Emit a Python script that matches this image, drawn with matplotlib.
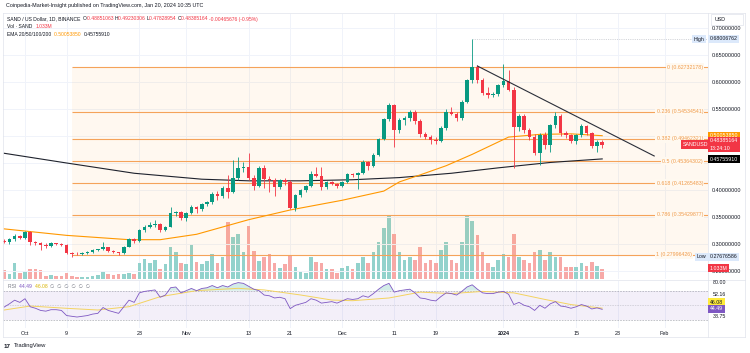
import matplotlib
matplotlib.use('Agg')
import matplotlib.pyplot as plt
import matplotlib.dates as mdates
import matplotlib.transforms as mtransforms
from matplotlib.lines import Line2D
from matplotlib.patches import Rectangle
import numpy as np
import pandas as pd

plt.rcParams['font.family'] = ['Liberation Sans', 'DejaVu Sans']

W, H = 750, 353

# ---- data (SAND/USD daily, Binance) ----
dates = pd.date_range('2023-09-27', '2024-01-20', freq='D')

opens = [0.306, 0.303, 0.309, 0.315, 0.311, 0.322, 0.304, 0.301, 0.299, 0.296, 0.301, 0.300,
         0.298, 0.284, 0.282, 0.281, 0.283, 0.285, 0.289, 0.290, 0.294, 0.287, 0.285, 0.283,
         0.295, 0.309, 0.305, 0.326, 0.332, 0.335, 0.337, 0.326, 0.332, 0.357, 0.360, 0.348,
         0.357, 0.369, 0.364, 0.374, 0.377, 0.393, 0.388, 0.403, 0.396, 0.422, 0.440, 0.442,
         0.422, 0.408, 0.441, 0.420, 0.418, 0.405, 0.418, 0.414, 0.366, 0.391, 0.400, 0.407,
         0.430, 0.425, 0.405, 0.414, 0.411, 0.407, 0.415, 0.430, 0.427, 0.432, 0.451, 0.445,
         0.465, 0.494, 0.531, 0.557, 0.512, 0.530, 0.534, 0.545, 0.527, 0.503, 0.499, 0.493,
         0.490, 0.514, 0.545, 0.541, 0.533, 0.563, 0.603, 0.627, 0.603, 0.579, 0.576, 0.577,
         0.594, 0.602, 0.585, 0.517, 0.537, 0.512, 0.499, 0.468, 0.502, 0.483, 0.520, 0.537,
         0.505, 0.501, 0.490, 0.501, 0.518, 0.505, 0.482, 0.48851063]
highs = [0.309, 0.311, 0.318, 0.317, 0.324, 0.325, 0.306, 0.303, 0.301, 0.303, 0.302, 0.301,
         0.300, 0.286, 0.285, 0.285, 0.287, 0.290, 0.291, 0.304, 0.295, 0.289, 0.286, 0.297,
         0.311, 0.311, 0.328, 0.336, 0.341, 0.344, 0.339, 0.334, 0.369, 0.362, 0.362, 0.359,
         0.372, 0.371, 0.376, 0.380, 0.396, 0.398, 0.407, 0.428, 0.455, 0.462, 0.452, 0.469,
         0.428, 0.445, 0.446, 0.425, 0.422, 0.421, 0.422, 0.418, 0.393, 0.402, 0.409, 0.435,
         0.443, 0.443, 0.416, 0.416, 0.413, 0.417, 0.432, 0.432, 0.434, 0.456, 0.454, 0.468,
         0.497, 0.533, 0.562, 0.560, 0.533, 0.537, 0.548, 0.548, 0.532, 0.507, 0.502, 0.499,
         0.518, 0.550, 0.553, 0.545, 0.566, 0.606, 0.680, 0.632, 0.608, 0.590, 0.582, 0.597,
         0.634, 0.622, 0.590, 0.540, 0.540, 0.515, 0.503, 0.505, 0.507, 0.522, 0.545, 0.541,
         0.510, 0.504, 0.503, 0.522, 0.520, 0.508, 0.492, 0.49230306]
lows = [0.301, 0.300, 0.305, 0.309, 0.310, 0.298, 0.299, 0.289, 0.293, 0.294, 0.298, 0.296,
        0.281, 0.2768, 0.279, 0.279, 0.281, 0.284, 0.287, 0.288, 0.285, 0.283, 0.280, 0.282,
        0.294, 0.302, 0.304, 0.322, 0.329, 0.331, 0.323, 0.324, 0.331, 0.352, 0.345, 0.343,
        0.355, 0.358, 0.362, 0.370, 0.375, 0.382, 0.386, 0.385, 0.394, 0.418, 0.433, 0.418,
        0.400, 0.405, 0.404, 0.397, 0.388, 0.402, 0.410, 0.364, 0.362, 0.387, 0.396, 0.405,
        0.424, 0.400, 0.401, 0.409, 0.404, 0.405, 0.413, 0.424, 0.401, 0.430, 0.437, 0.443,
        0.463, 0.492, 0.528, 0.480, 0.505, 0.520, 0.528, 0.522, 0.498, 0.495, 0.486, 0.486,
        0.488, 0.512, 0.538, 0.528, 0.530, 0.561, 0.598, 0.598, 0.575, 0.570, 0.572, 0.574,
        0.590, 0.583, 0.440, 0.510, 0.505, 0.493, 0.465, 0.447, 0.475, 0.470, 0.515, 0.500,
        0.497, 0.487, 0.486, 0.498, 0.502, 0.478, 0.470, 0.47828954]
closes = [0.303, 0.309, 0.315, 0.311, 0.322, 0.304, 0.301, 0.299, 0.296, 0.301, 0.300, 0.298,
          0.284, 0.282, 0.281, 0.283, 0.285, 0.289, 0.290, 0.294, 0.287, 0.285, 0.283, 0.295,
          0.309, 0.305, 0.326, 0.332, 0.335, 0.337, 0.326, 0.332, 0.357, 0.360, 0.348, 0.357,
          0.369, 0.364, 0.374, 0.377, 0.393, 0.388, 0.403, 0.396, 0.422, 0.440, 0.442, 0.422,
          0.408, 0.441, 0.420, 0.418, 0.405, 0.418, 0.414, 0.366, 0.391, 0.400, 0.407, 0.430,
          0.425, 0.405, 0.414, 0.411, 0.407, 0.415, 0.430, 0.427, 0.432, 0.451, 0.445, 0.465,
          0.494, 0.531, 0.557, 0.512, 0.530, 0.534, 0.545, 0.527, 0.503, 0.499, 0.493, 0.490,
          0.514, 0.545, 0.541, 0.533, 0.563, 0.603, 0.627, 0.603, 0.579, 0.576, 0.577, 0.594,
          0.602, 0.585, 0.517, 0.537, 0.512, 0.499, 0.468, 0.502, 0.483, 0.520, 0.537, 0.505,
          0.501, 0.490, 0.501, 0.518, 0.505, 0.482, 0.48851063, 0.48385164]

# volume in millions of SAND
volumes = [0.9, 0.5, 1.6, 0.6, 0.8, 1.0, 1.0, 0.9, 0.3, 0.4, 0.3, 0.3,
           0.6, 0.3, 0.2, 0.2, 0.2, 0.3, 0.4, 0.7, 0.5, 0.4, 0.5, 0.5,
           0.6, 0.5, 1.6, 2.1, 1.6, 2.0, 1.0, 1.5, 3.3, 2.8, 1.6, 1.5,
           3.5, 1.8, 1.5, 1.9, 2.6, 1.6, 2.3, 5.9, 4.3, 4.6, 2.8, 5.5,
           2.9, 1.9, 2.3, 2.6, 1.6, 1.1, 1.5, 2.4, 1.2, 0.7, 0.6, 2.3,
           1.7, 1.6, 1.0, 1.0, 0.6, 1.1, 1.3, 1.0, 1.6, 2.3, 1.6, 2.8,
           3.8, 5.3, 6.5, 4.6, 2.8, 2.0, 2.3, 2.0, 3.3, 1.6, 2.0, 1.6,
           3.0, 3.8, 2.0, 1.6, 3.8, 6.5, 6.0, 4.5, 2.8, 1.6, 1.2, 2.0,
           2.6, 2.3, 4.6, 2.3, 2.0, 1.6, 2.8, 3.0, 2.0, 2.8, 2.3, 2.3,
           1.2, 1.2, 1.2, 1.6, 1.3, 1.8, 1.3, 1.033]

rsi_vals = [47.6, 52, 57, 54, 59, 48, 46, 43, 42, 44, 44, 43,
            36, 35, 34, 35, 36, 38, 39, 47, 43, 41, 39, 48,
            57, 54, 67, 69, 70, 71, 61, 64, 74, 75, 67, 70,
            73, 70, 73, 74, 77, 74, 77, 75, 79, 81, 80, 76,
            72, 70, 64, 63, 60, 61, 59, 45.5, 50, 52, 54, 59,
            57, 53, 54, 55, 53, 56, 59, 58, 59, 63, 61, 66,
            72, 77, 80, 68, 70, 71, 72, 67, 60, 59, 57, 56,
            62, 67, 66, 64, 69, 75, 78, 72, 67, 66, 66, 68,
            69, 65, 51, 54, 50, 48, 43, 50, 46, 52, 55, 49,
            48, 46, 48, 51, 49, 45, 46.5, 44.49]

rsi_ma_dates = ['2023-09-27', '2023-10-02', '2023-10-09', '2023-10-15', '2023-10-21', '2023-10-27',
                '2023-11-03', '2023-11-11', '2023-11-16', '2023-11-23', '2023-11-29', '2023-12-03',
                '2023-12-10', '2023-12-16', '2023-12-22', '2023-12-28', '2024-01-03', '2024-01-09',
                '2024-01-14', '2024-01-20']
rsi_ma_vals = [43.6, 49, 45.9, 43.6, 48.1, 61.8, 70, 73.2, 71, 64.1, 57.2, 56.3,
               60, 68, 66, 69, 67, 58, 51, 46.08]

ema50_dates = ['2023-09-27', '2023-10-09', '2023-10-21', '2023-10-27', '2023-11-03', '2023-11-13',
               '2023-11-21', '2023-12-01', '2023-12-09', '2023-12-12', '2023-12-16', '2023-12-21',
               '2023-12-26', '2024-01-02', '2024-01-08', '2024-01-14', '2024-01-20']
ema50_vals = [0.328, 0.316, 0.308, 0.308, 0.318, 0.345, 0.363, 0.381, 0.398, 0.415, 0.428,
              0.445, 0.466, 0.498, 0.503, 0.504, 0.50053850]

ema200_dates = ['2023-09-27', '2023-10-09', '2023-10-22', '2023-11-04', '2023-11-13', '2023-11-23',
                '2023-12-03', '2023-12-12', '2023-12-22', '2023-12-31', '2024-01-10', '2024-01-20']
ema200_vals = [0.468, 0.450, 0.431, 0.420, 0.417, 0.417, 0.419, 0.423, 0.431, 0.441, 0.451,
               0.45755910]

fib_ratios = ['0', '0.236', '0.382', '0.5', '0.618', '0.786', '1']
fib_prices = [0.62732178, 0.54534541, 0.49462321, 0.45364302, 0.41265483, 0.35429877, 0.27996426]
fib_start = '2023-10-10'

trend_dates = ['2023-12-27', '2024-01-30']
trend_prices = [0.6296, 0.4630]

price_high, price_high_date = 0.68006762, '2023-12-26'
price_low = 0.27676586

grid_prices = [0.25, 0.30, 0.35, 0.40, 0.45, 0.50, 0.55, 0.60, 0.65, 0.70]
price_labels = [0.25, 0.30, 0.35, 0.40, 0.55, 0.60, 0.65, 0.70]
time_ticks = ['2023-10-01', '2023-10-09', '2023-10-23', '2023-11-01', '2023-11-13', '2023-11-21',
              '2023-12-01', '2023-12-11', '2023-12-19', '2024-01-01', '2024-01-15', '2024-01-23',
              '2024-02-01']
time_labels = ['Oct', '9', '23', 'Nov', '13', '21', 'Dec', '11', '19', '2024', '15', '23', 'Feb']

# ---- colours ----
UP, DN = '#089981', '#F23645'
UP_V, DN_V = '#92D2CC', '#F7A9A7'
FIB = '#F5A35A'
GRID = '#F0F3FA'
TXT = '#131722'
GREY = '#787B86'
BORDER = '#E0E3EB'
EMA50_C = '#FF9800'
RSI_C = '#7E57C2'
RSI_MA_C = '#F3D35F'


def fx(px):
    return px / W


def fy(py):
    return 1 - py / H


def dn(d):
    return mdates.date2num(pd.Timestamp(d))


fig = plt.figure(figsize=(W / 100, H / 100), dpi=100)
fig.patch.set_facecolor('white')

x_oct1 = dn('2023-10-01')
xlim = (x_oct1 - 22 / 5.2, x_oct1 + 683 / 5.2)

# volume axes underneath, price axes on top
ax_vol = fig.add_axes([fx(3), fy(279), fx(708) - fx(3), fy(14) - fy(279)])
ax = fig.add_axes([fx(3), fy(279), fx(708) - fx(3), fy(14) - fy(279)], sharex=ax_vol)
ax.patch.set_visible(False)
ax_rsi = fig.add_axes([fx(3), fy(328), fx(708) - fx(3), fy(281) - fy(328)], sharex=ax_vol)

for a in (ax, ax_vol, ax_rsi):
    for s in a.spines.values():
        s.set_visible(False)
ax_vol.set_xlim(*xlim)

xd = mdates.date2num(dates)
o = np.array(opens)
h = np.array(highs)
l = np.array(lows)
c = np.array(closes)
up = c >= o

# grid
for t in time_ticks:
    ax_vol.axvline(dn(t), color=GRID, lw=0.7, zorder=0)
    ax_rsi.axvline(dn(t), color=GRID, lw=0.7, zorder=0)

# volume
ax_vol.bar(xd, volumes, width=0.66, color=np.where(up, UP_V, DN_V), lw=0, zorder=2)
ax_vol.set_ylim(0, 27.3)
ax_vol.set_yticks([])
ax_vol.tick_params(axis='x', length=0, labelbottom=False)

# price pane
ax.set_ylim(0.2352, 0.7259)
for p in grid_prices:
    ax.axhline(p, color=GRID, lw=0.7, zorder=0)

x_fib0 = dn(fib_start)
ax.fill_between([x_fib0, xlim[1]], fib_prices[-1], fib_prices[0], color='#FF9800', alpha=0.06, lw=0,
                zorder=1)
blend = mtransforms.blended_transform_factory(ax.transAxes, ax.transData)
for r, p in zip(fib_ratios, fib_prices):
    ax.hlines(p, x_fib0, xlim[1], color=FIB, lw=0.8, zorder=2)
    right = 0.993 if r != '1' else (692 - 3) / 705
    ax.text(right, p, f'{r} ({p:.8f})', transform=blend, ha='right', va='center', fontsize=3.8,
            color='#F09A4A', zorder=3,
            bbox=dict(boxstyle='square,pad=0.25', fc='#FFF9F0', ec='none'))

ax.hlines(price_high, dn(price_high_date), xlim[1], color='#B2B5BE', lw=0.4, ls=(0, (2, 2)), zorder=2)

ax.plot(mdates.date2num(pd.to_datetime(ema200_dates)), ema200_vals, color='#1E222D', lw=0.8, zorder=3)
ax.plot(mdates.date2num(pd.to_datetime(ema50_dates)), ema50_vals, color=EMA50_C, lw=0.8, zorder=3)

col = np.where(up, UP, DN)
ax.vlines(xd, l, h, colors=col, lw=0.6, zorder=4)
ax.bar(xd, np.maximum(np.abs(c - o), 0.0012), bottom=np.minimum(o, c), width=0.66, color=col, lw=0,
       zorder=5)

ax.plot(mdates.date2num(pd.to_datetime(trend_dates)), trend_prices, color='#2A2E39', lw=0.8, zorder=6)

ax.yaxis.tick_right()
ax.set_yticks(price_labels)
ax.set_yticklabels([f'{p:.8f}' for p in price_labels])
ax.tick_params(axis='y', length=0, pad=3, labelsize=3.9, labelcolor=TXT)
ax.tick_params(axis='x', length=0, labelbottom=False)

# RSI pane
ax_rsi.set_ylim(19.0, 83.2)
ax_rsi.fill_between(xlim, 30, 70, color=RSI_C, alpha=0.09, lw=0, zorder=1)
for lvl, ls in ((70, (0, (3, 2))), (50, (0, (1, 2))), (30, (0, (3, 2)))):
    ax_rsi.axhline(lvl, color='#9598A1', lw=0.4, ls=ls, zorder=2)
rv = np.array(rsi_vals)
ax_rsi.fill_between(xd, 70, rv, where=rv > 70, interpolate=True, color=UP, alpha=0.18, lw=0, zorder=2)
ax_rsi.plot(mdates.date2num(pd.to_datetime(rsi_ma_dates)), rsi_ma_vals, color=RSI_MA_C, lw=0.7, zorder=3)
ax_rsi.plot(xd, rv, color=RSI_C, lw=0.6, zorder=4)
ax_rsi.set_yticks([])
ax_rsi.set_xticks([dn(t) for t in time_ticks])
ax_rsi.set_xticklabels(time_labels)
ax_rsi.tick_params(axis='x', length=0, pad=2.0, labelsize=3.9, labelcolor=TXT)
for lab in ax_rsi.get_xticklabels():
    if lab.get_text() == '2024':
        lab.set_fontweight('bold')

# frame lines
for line in ([(3, 745), (13, 13)], [(3, 745), (280, 280)], [(3, 745), (337, 337)],
             [(3, 3), (13, 337)], [(745, 745), (13, 337)], [(708, 708), (13, 337)]):
    fig.add_artist(Line2D([fx(v) for v in line[0]], [fy(v) for v in line[1]], color=BORDER, lw=0.5))

renderer = fig.canvas.get_renderer()


def seq_text(x_px, y_px, parts, size):
    x = x_px
    for s, color, weight in parts:
        t = fig.text(fx(x), fy(y_px), s, color=color, fontsize=size, fontweight=weight, ha='left',
                     va='center')
        x += t.get_window_extent(renderer).width


def tag(x_px, y_px, s, fc, tc, size=3.8, ha='left'):
    fig.text(fx(x_px), fy(y_px), s, color=tc, fontsize=size, ha=ha, va='center', zorder=10,
             bbox=dict(boxstyle='square,pad=0.3', fc=fc, ec='none'))


# header and legends
fig.text(fx(6), fy(6), 'Coinpedia-Market-Insight published on TradingView.com, Jan 20, 2024 10:35 UTC',
         fontsize=3.9, color=TXT, va='center')
seq_text(7, 19, [('SAND / US Dollar, 1D, BINANCE  ', TXT, 'normal'),
                 ('O', TXT, 'normal'), ('0.48851063 ', DN, 'normal'),
                 ('H', TXT, 'normal'), ('0.49230306 ', DN, 'normal'),
                 ('L', TXT, 'normal'), ('0.47828954 ', DN, 'normal'),
                 ('C', TXT, 'normal'), ('0.48385164 ', DN, 'normal'),
                 ('-0.00465676 (-0.95%)', DN, 'normal')], 3.6)
seq_text(7, 27, [('Vol · SAND  ', TXT, 'normal'), ('1.033M', DN, 'normal')], 3.6)
seq_text(7, 35, [('EMA 20/50/100/200  ', TXT, 'normal'), ('0.50053850  ', EMA50_C, 'normal'),
                 ('0.45755910', TXT, 'normal')], 3.6)
seq_text(8, 286, [('RSI  ', GREY, 'normal'), ('44.49  ', RSI_C, 'normal'), ('46.08  ', '#D9B400', 'normal'),
                  ('∅  ∅  ∅  ∅  ∅  ∅', GREY, 'normal')], 3.6)

# right-side tags
fig.add_artist(Rectangle((fx(711), fy(25)), fx(743) - fx(711), fy(14) - fy(25), fc='white', ec=BORDER,
                         lw=0.5, zorder=9))
fig.text(fx(715), fy(19.5), 'USD', fontsize=3.8, color=TXT, va='center', zorder=10)
tag(694, 39, 'High', '#DCE9FB', TXT)
tag(710, 39, f'{price_high:.8f}', '#DCE9FB', TXT)
tag(710, 136, '0.50053850', EMA50_C, 'white')
tag(683, 144.5, 'SANDUSD', DN, 'white')
fig.text(fx(710), fy(144.5), '0.48385164\n13:24:10', color='white', fontsize=3.8, va='center',
         linespacing=1.6, zorder=10, bbox=dict(boxstyle='square,pad=0.3', fc=DN, ec='none'))
tag(710, 159, '0.45755910', '#000000', 'white')
tag(697, 257, 'Low', '#DCE9FB', TXT)
tag(710, 257, f'{price_low:.8f}', '#DCE9FB', TXT)
tag(710, 268, '1.033M', DN, 'white')

fig.text(fx(713), fy(283), '80.00', fontsize=3.8, color=TXT, va='center')
fig.text(fx(713), fy(294), '52.16', fontsize=3.8, color=TXT, va='center')
tag(710, 302, '46.08', '#FFEB3B', TXT)
tag(710, 309, '44.49', RSI_C, 'white')
fig.text(fx(713), fy(317), '38.75', fontsize=3.8, color=TXT, va='center')

# TradingView mark
fig.text(fx(4), fy(346), '17', fontsize=4.5, color=TXT, fontweight='bold', va='center')
fig.text(fx(14), fy(346), 'TradingView', fontsize=4.2, color=TXT, va='center')

fig.savefig('out.png', dpi=100, facecolor='white')
